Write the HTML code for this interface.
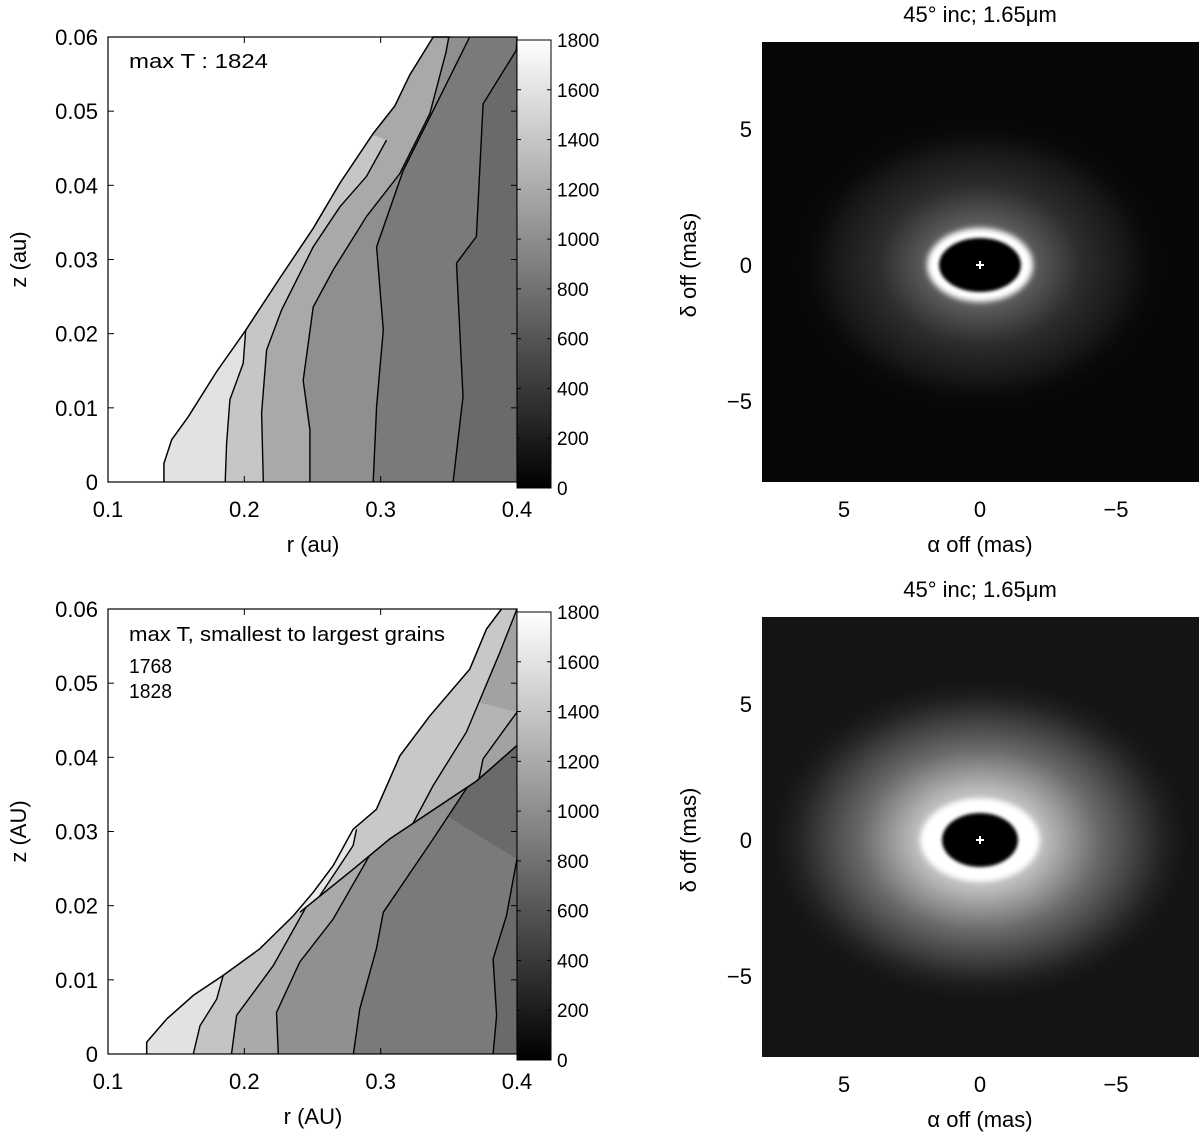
<!DOCTYPE html>
<html><head><meta charset="utf-8"><style>
html,body{margin:0;padding:0;background:#fff;}
svg{display:block;font-family:"Liberation Sans",sans-serif;}
</style></head><body>
<svg id="fig" width="1200" height="1134" viewBox="0 0 1200 1134" xmlns="http://www.w3.org/2000/svg">
<defs>
<linearGradient id="cbar" x1="0" y1="1" x2="0" y2="0"><stop offset="0" stop-color="#000"/><stop offset="1" stop-color="#fff"/></linearGradient>
<radialGradient id="glowTop"><stop offset="0" stop-color="#888"/><stop offset="0.3" stop-color="#5a5a5a"/><stop offset="0.55" stop-color="#2c2c2c"/><stop offset="0.8" stop-color="#161616"/><stop offset="1" stop-color="#080808" stop-opacity="0"/></radialGradient>
<radialGradient id="glowBot"><stop offset="0" stop-color="#ddd"/><stop offset="0.3" stop-color="#bbb"/><stop offset="0.55" stop-color="#6a6a6a"/><stop offset="0.8" stop-color="#2e2e2e"/><stop offset="1" stop-color="#151515" stop-opacity="0"/></radialGradient>
<filter id="blur2"><feGaussianBlur stdDeviation="3"/></filter>
<filter id="blur1"><feGaussianBlur stdDeviation="1.5"/></filter>
</defs>
</svg>
<script>
// ---- data: top-left (single grain) ----
const topEdge=[[0.141,0],[0.141,0.0025],[0.1467,0.0057],[0.1589,0.0088],[0.1797,0.0149],[0.2004,0.0203],[0.2261,0.0275],[0.2505,0.0342],[0.2701,0.0403],[0.2945,0.047],[0.3104,0.0507],[0.3214,0.0549],[0.3385,0.06],[0.3507,0.06]];
const topC1=[[0.186,0],[0.187,0.0052],[0.1894,0.0111],[0.1992,0.016],[0.201,0.0205]];
const topC2=[[0.2139,0],[0.2127,0.0093],[0.2163,0.0178],[0.2273,0.0232],[0.2505,0.0317],[0.2701,0.0371],[0.2896,0.0412],[0.3043,0.0461]];
const topC3=[[0.2481,0],[0.2481,0.007],[0.2432,0.0137],[0.2505,0.0236],[0.2652,0.0286],[0.2896,0.0358],[0.3141,0.0416],[0.3361,0.0497],[0.348,0.058],[0.35,0.06]];
const topC4=[[0.2945,0],[0.297,0.0102],[0.3019,0.0205],[0.297,0.0317],[0.3165,0.042],[0.3385,0.0501],[0.3653,0.06]];
const topC5=[[0.3531,0],[0.3604,0.0115],[0.3556,0.0295],[0.3702,0.0331],[0.3751,0.051],[0.3995,0.0582],[0.4,0.06]];
const topShades=["#6a6a6a","#7a7a7a","#8f8f8f","#a9a9a9","#c6c6c6","#e2e2e2"];
// ---- data: bottom-left (two grains) ----
const botEdge=[[0.1284,0],[0.1284,0.0016],[0.143,0.0047],[0.1626,0.0079],[0.1845,0.0106],[0.2114,0.0142],[0.2358,0.0186],[0.2505,0.0218],[0.2652,0.0254],[0.2798,0.0303],[0.2969,0.033],[0.3141,0.0402],[0.3361,0.0456],[0.3654,0.0519],[0.3776,0.0573],[0.3886,0.06]];
const botDiag=[[0.2407,0.0191],[0.2798,0.0249],[0.3067,0.029],[0.3702,0.0368],[0.4,0.0416]];
const botL1=[[0.1626,0],[0.1675,0.0038],[0.1797,0.0074],[0.1845,0.0106]];
const botL2=[[0.1906,0],[0.1943,0.0052],[0.2212,0.0119],[0.252,0.022]];
const botL3=[[0.2249,0],[0.2236,0.0056],[0.2407,0.0124],[0.2652,0.0182],[0.305,0.031]];
const botL4=[[0.28,0],[0.2847,0.0061],[0.2969,0.0142],[0.3019,0.0191],[0.3385,0.029],[0.378,0.04]];
const botL5=[[0.3825,0],[0.385,0.0052],[0.3825,0.0128],[0.3922,0.0186],[0.4,0.0263]];
const botU1=[[0.2505,0.02],[0.2798,0.0281],[0.2823,0.0303]];
const botU2=[[0.3214,0.0303],[0.3385,0.0362],[0.3629,0.0434],[0.3873,0.0541],[0.4,0.06]];
const botU3=[[0.372,0.037],[0.3751,0.0398],[0.4,0.0461]];
const lowShades=["#6a6a6a","#7a7a7a","#909090","#aaaaaa","#c4c4c4","#e2e2e2"];
const upShades=["#a2a2a2","#b4b4b4","#c8c8c8","#e8e8e8"];
// ---- ticks ----
const rTicks=[0.1,0.2,0.3,0.4];
const zTicks=[0,0.01,0.02,0.03,0.04,0.05,0.06];
const cTicks=[0,200,400,600,800,1000,1200,1400,1600,1800];
const masTicks=[5,0,-5];
const maxTop="1824";
const maxBot=["1768","1828"];

const NS="http://www.w3.org/2000/svg";
const svg=document.getElementById('fig');
function el(tag,attrs,parent){const e=document.createElementNS(NS,tag);for(const k in attrs)e.setAttribute(k,attrs[k]);(parent||svg).appendChild(e);return e;}
function txt(s,x,y,size,anchor,parent,extra){const t=el('text',Object.assign({x:x,y:y,'font-size':size,'text-anchor':anchor||'middle',fill:'#000'},extra||{}),parent);t.textContent=s;return t;}

function leftPanel(id,top,edge){
  const x0=108,x1=517,y0=top,y1=top+445;
  const X=r=>x0+(r-0.1)/0.3*(x1-x0);
  const Y=z=>y1-z/0.06*(y1-y0);
  const P=pts=>pts.map(p=>X(p[0]).toFixed(1)+','+Y(p[1]).toFixed(1)).join(' ');
  const g=el('g',{});
  
  
  const disk=edge.concat([[0.4,0.06],[0.4,0]]);
  const cp=el('clipPath',{id:id+'-disk'},g);el('polygon',{points:P(disk)},cp);
  return {g,X,Y,P,x0,x1,y0,y1,disk};
}
function fillBands(P,parent,clipId,lines,shades,closeTo){
  const gg=el('g',{'clip-path':'url(#'+clipId+')'},parent);
  el('rect',{x:0,y:0,width:1200,height:1134,fill:shades[0]},gg);
  for(let i=lines.length-1;i>=0;i--){
    const poly=lines[i].concat(closeTo);
    const pg=el('polygon',{points:P(poly),fill:shades[lines.length-i]},gg);
    
    
  }
  return gg;
}
function strokeLines(P,parent,clipId,lines){
  const gg=el('g',{'clip-path':'url(#'+clipId+')'},parent);
  lines.forEach(l=>{const pl=el('polyline',{points:P(l),fill:'none',stroke:'#000','stroke-width':1.4},gg);
    
    });
}
function axes(pn,unit,cbTop){
  const {g,X,Y,x0,x1,y0,y1}=pn;
  el('rect',{x:x0,y:y0,width:x1-x0,height:y1-y0,fill:'none',stroke:'#000','stroke-width':1.2},g);
  rTicks.forEach(r=>{el('line',{x1:X(r),y1:y1,x2:X(r),y2:y1-6,stroke:'#000'},g);el('line',{x1:X(r),y1:y0,x2:X(r),y2:y0+6,stroke:'#000'},g);
    const t=txt(String(r),X(r),y1+35,22,'middle',g);});
  zTicks.forEach(z=>{el('line',{x1:x0,y1:Y(z),x2:x0+6,y2:Y(z),stroke:'#000'},g);el('line',{x1:x1,y1:Y(z),x2:x1-6,y2:Y(z),stroke:'#000'},g);
    const t=txt(String(z),98,Y(z)+8,22,'end',g);});
  const xl=txt('r ('+unit+')',313,y1+70,22,'middle',g);
  const yl=txt('z ('+unit+')',0,0,22,'middle',g,{transform:'translate(26,'+((y0+y1)/2)+') rotate(-90)'});
  const cy0=cbTop,cy1=cbTop+448,cx0=517,cx1=551;
  const cb=el('rect',{x:cx0,y:cy0,width:cx1-cx0,height:cy1-cy0,fill:'url(#cbar)',stroke:'#000','stroke-width':1},g);
  
  const CY=v=>cy1-v/1800*(cy1-cy0);
  cTicks.forEach(v=>{el('line',{x1:cx0,y1:CY(v),x2:cx0+4,y2:CY(v),stroke:'#000'},g);el('line',{x1:cx1,y1:CY(v),x2:cx1-4,y2:CY(v),stroke:'#000'},g);
    const t=txt(String(v),557,CY(v)+7,19,'start',g);});
}

const A=leftPanel('top-temp',37,topEdge);
fillBands(A.P,A.g,'top-temp-disk',[topC1,topC2,topC3,topC4,topC5],topShades,[[0.1,0.06],[0.1,0]]);
strokeLines(A.P,A.g,'top-temp-disk',[topC1,topC2,topC3,topC4,topC5]);
(function(){const e=el('polyline',{points:A.P(topEdge),fill:'none',stroke:'#000','stroke-width':1.5},A.g);})();
axes(A,'au',40);
(function(){const t=txt('max T :  '+maxTop,129,68,20,'start',A.g,{textLength:139,lengthAdjust:'spacingAndGlyphs'});})();

const B=leftPanel('bot-temp',609,botEdge);
const lowCp=el('clipPath',{id:'lowclip'},B.g);el('polygon',{points:B.P([[0.1,0],[0.1,0.0191]].concat(botDiag,[[0.4,0]]))},lowCp);
const upCp=el('clipPath',{id:'upclip'},B.g);el('polygon',{points:B.P([[0.1,0.0191]].concat(botDiag,[[0.4,0.06],[0.1,0.06]]))},upCp);
const diskG=el('g',{'clip-path':'url(#bot-temp-disk)'},B.g);
fillBands(B.P,diskG,'lowclip',[botL1,botL2,botL3,botL4,botL5],lowShades,[[0.1,0.06],[0.1,0]]);
fillBands(B.P,diskG,'upclip',[botU1,botU2,botU3],upShades,[[0.1,0.06],[0.1,0]]);
strokeLines(B.P,diskG,'lowclip',[botL1,botL2,botL3,botL4,botL5]);
strokeLines(B.P,diskG,'upclip',[botU1,botU2,botU3]);
(function(){const d=el('polyline',{points:B.P(botDiag),fill:'none',stroke:'#000','stroke-width':1.5},diskG);
const e=el('polyline',{points:B.P(botEdge),fill:'none',stroke:'#000','stroke-width':1.5},B.g);})();
axes(B,'AU',612);
(function(){const t=txt('max T, smallest to largest grains',129,641,20,'start',B.g,{textLength:316,lengthAdjust:'spacingAndGlyphs'});
maxBot.forEach((s,i)=>{const u=txt(s,129,673+i*25,20,'start',B.g,{textLength:43,lengthAdjust:'spacingAndGlyphs'});});})();

function imagePanel(id,top,bg,glow,gR,ringR,holeR){
  const x0=762,x1=1199,y0=top,y1=top+440,cx=980;
  const cy=(top+440/2)+3;
  const M=v=>cx-v*27.2, MY=v=>cy-v*27.2;
  const g=el('g',{});
  
  
  const cp=el('clipPath',{id:id+'-clip'},g);el('rect',{x:x0,y:y0,width:x1-x0,height:y1-y0},cp);
  const im=el('g',{'clip-path':'url(#'+id+'-clip)'},g);
  const bgR=el('rect',{x:x0,y:y0,width:x1-x0,height:y1-y0,fill:bg},im);
  el('ellipse',{cx:cx,cy:cy,rx:gR[0],ry:gR[1],fill:'url(#'+glow+')'},im);
  el('ellipse',{cx:cx,cy:cy,rx:ringR[0],ry:ringR[1],fill:'#fff',filter:'url(#blur2)'},im);
  el('ellipse',{cx:cx,cy:cy,rx:holeR[0],ry:holeR[1],fill:'#000',filter:'url(#blur1)'},im);
  el('path',{d:`M${cx-4} ${cy}h8M${cx} ${cy-4}v8`,stroke:'#fff','stroke-width':2},im);
  masTicks.forEach(v=>{const t=txt(v<0?'\u2212'+(-v):String(v),M(v),y1+35,22,'middle',g);
    const u=txt(v<0?'\u2212'+(-v):String(v),752,MY(v)+8,22,'end',g);});
  const xl=txt('\u03b1 off (mas)',980,y1+70,22,'middle',g);
  const yl=txt('\u03b4 off (mas)',0,0,22,'middle',g,{transform:'translate(696,'+cy+') rotate(-90)'});
  const ti=txt('45\u00b0 inc; 1.65\u03bcm',980,top-20,22,'middle',g);
}
imagePanel('top-image',42,'#070707','glowTop',[185,145],[53,37],[41,27]);
imagePanel('bot-image',617,'#141414','glowBot',[215,165],[60,42],[38,27]);
</script>
</body></html>
